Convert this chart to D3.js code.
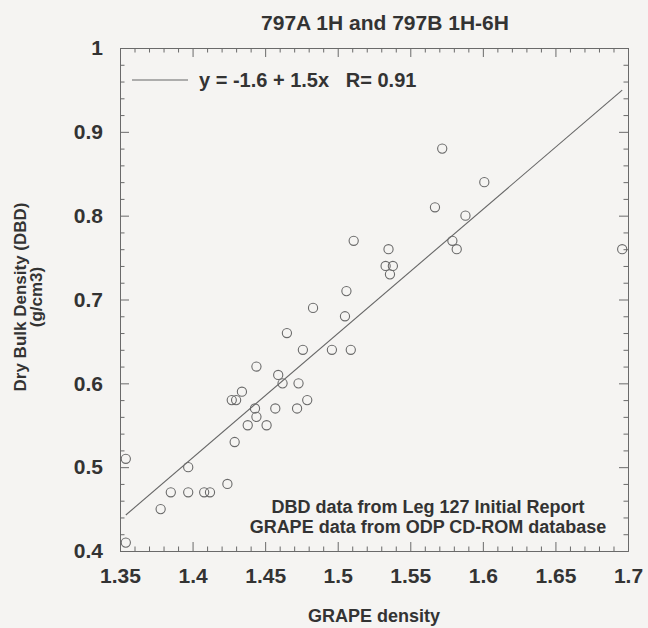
<!DOCTYPE html>
<html>
<head>
<meta charset="utf-8">
<script src="https://cdn.jsdelivr.net/npm/d3@7"></script>
<style>
  html, body { margin: 0; padding: 0; background: #f5f4f2; }
  svg { display: block; font-family: "Liberation Sans", Arial, Helvetica, sans-serif; }
  .axis path, .axis line { stroke: #6a6a6a; stroke-width: 1; }
  .axis text { fill: #333; font-size: 21px; font-weight: bold; font-family: "Liberation Sans", Arial, sans-serif; }
</style>
</head>
<body>
<svg id="chart" width="648" height="628"></svg>
<script>
// Site 797 samples: GRAPE density vs. dry bulk density
const grapeDensity = [
  1.354, 1.354, 1.378, 1.385, 1.397, 1.397, 1.408, 1.412, 1.424, 1.429,
  1.427, 1.430, 1.434, 1.438, 1.443, 1.444, 1.444, 1.451, 1.457, 1.459,
  1.462, 1.465, 1.472, 1.473, 1.476, 1.479, 1.483, 1.496, 1.505, 1.506,
  1.509, 1.511, 1.535, 1.533, 1.538, 1.536, 1.567, 1.572, 1.579, 1.582,
  1.588, 1.601, 1.696
];
const dryBulkDensity = [
  0.51, 0.41, 0.45, 0.47, 0.50, 0.47, 0.47, 0.47, 0.48, 0.53,
  0.58, 0.58, 0.59, 0.55, 0.57, 0.56, 0.62, 0.55, 0.57, 0.61,
  0.60, 0.66, 0.57, 0.60, 0.64, 0.58, 0.69, 0.64, 0.68, 0.71,
  0.64, 0.77, 0.76, 0.74, 0.74, 0.73, 0.81, 0.88, 0.77, 0.76,
  0.80, 0.84, 0.76
];
const xMajorTicks = [1.35, 1.4, 1.45, 1.5, 1.55, 1.6, 1.65, 1.7];
const yMajorTicks = [0.4, 0.5, 0.6, 0.7, 0.8, 0.9, 1];

const titleText = "797A 1H and 797B 1H-6H";
const xTitle = "GRAPE density";
const yTitleLines = ["Dry Bulk Density (DBD)", "(g/cm3)"];
const noteLines = ["DBD data from Leg 127 Initial Report", "GRAPE data from ODP CD-ROM database"];

const svg = d3.select("#chart");
const frame = { left: 120, right: 628, top: 48, bottom: 551 };

const x = d3.scaleLinear().domain([1.35, 1.7]).range([frame.left, frame.right]);
const y = d3.scaleLinear().domain([0.4, 1]).range([frame.bottom, frame.top]);

const xMinor = d3.range(135, 171, 1).map(v => v / 100).filter(v => !xMajorTicks.some(t => Math.abs(t - v) < 1e-9));
const yMinor = d3.range(40, 101, 2).map(v => v / 100).filter(v => !yMajorTicks.some(t => Math.abs(t - v) < 1e-9));
const fmt = d => String(+d.toFixed(2));

const major = 9, minor = 4.5;

// bottom axis: inward ticks, labels below
svg.append("g").attr("class", "axis").attr("transform", `translate(0,${frame.bottom})`)
  .call(d3.axisBottom(x).tickValues(xMajorTicks).tickFormat(fmt).tickSize(-major).tickPadding(17).tickSizeOuter(0));
svg.append("g").attr("class", "axis").attr("transform", `translate(0,${frame.bottom})`)
  .call(d3.axisBottom(x).tickValues(xMinor).tickFormat("").tickSize(-minor).tickSizeOuter(0));
// top axis
svg.append("g").attr("class", "axis").attr("transform", `translate(0,${frame.top})`)
  .call(d3.axisTop(x).tickValues(xMajorTicks).tickFormat("").tickSize(-major).tickSizeOuter(0));
svg.append("g").attr("class", "axis").attr("transform", `translate(0,${frame.top})`)
  .call(d3.axisTop(x).tickValues(xMinor).tickFormat("").tickSize(-minor).tickSizeOuter(0));
// left axis
svg.append("g").attr("class", "axis").attr("transform", `translate(${frame.left},0)`)
  .call(d3.axisLeft(y).tickValues(yMajorTicks).tickFormat(fmt).tickSize(-major).tickPadding(17).tickSizeOuter(0));
svg.append("g").attr("class", "axis").attr("transform", `translate(${frame.left},0)`)
  .call(d3.axisLeft(y).tickValues(yMinor).tickFormat("").tickSize(-minor).tickSizeOuter(0));
// right axis
svg.append("g").attr("class", "axis").attr("transform", `translate(${frame.right},0)`)
  .call(d3.axisRight(y).tickValues(yMajorTicks).tickFormat("").tickSize(-major).tickSizeOuter(0));
svg.append("g").attr("class", "axis").attr("transform", `translate(${frame.right},0)`)
  .call(d3.axisRight(y).tickValues(yMinor).tickFormat("").tickSize(-minor).tickSizeOuter(0));

// least-squares fit
const n = grapeDensity.length;
const mx = d3.mean(grapeDensity), my = d3.mean(dryBulkDensity);
let sxy = 0, sxx = 0, syy = 0;
for (let i = 0; i < n; i++) {
  const dx = grapeDensity[i] - mx, dy = dryBulkDensity[i] - my;
  sxy += dx * dy; sxx += dx * dx; syy += dy * dy;
}
const slope = sxy / sxx;
const intercept = my - slope * mx;
const r = sxy / Math.sqrt(sxx * syy);
const [x0, x1] = d3.extent(grapeDensity);

svg.append("line")
  .attr("x1", x(x0)).attr("y1", y(intercept + slope * x0))
  .attr("x2", x(x1)).attr("y2", y(intercept + slope * x1))
  .attr("stroke", "#666").attr("stroke-width", 1.1);

// data points
svg.append("g").selectAll("circle")
  .data(grapeDensity.map((g, i) => [g, dryBulkDensity[i]]))
  .join("circle")
  .attr("cx", d => x(d[0])).attr("cy", d => y(d[1]))
  .attr("r", 4.6)
  .attr("fill", "none").attr("stroke", "#6a6a6a").attr("stroke-width", 1.1);

// legend
svg.append("line").attr("x1", 132).attr("x2", 188).attr("y1", 80).attr("y2", 80)
  .attr("stroke", "#666").attr("stroke-width", 1.1);
svg.append("text").attr("x", 199).attr("y", 87)
  .attr("font-size", 20).attr("font-weight", "bold").attr("fill", "#333")
  .style("white-space", "pre")
  .text(`y = ${intercept.toFixed(1)} + ${slope.toFixed(1)}x   R= ${r.toFixed(2)}`);

// title
svg.append("text").attr("x", 385).attr("y", 30).attr("text-anchor", "middle")
  .attr("font-size", 21).attr("font-weight", "bold").attr("fill", "#333").text(titleText);

// data source note
svg.append("g").selectAll("text").data(noteLines).join("text")
  .attr("x", 428).attr("y", (d, i) => 513 + i * 19.5).attr("text-anchor", "middle")
  .attr("font-size", 18).attr("font-weight", "bold").attr("fill", "#333").text(d => d);

// axis titles
svg.append("text").attr("x", 374).attr("y", 622).attr("text-anchor", "middle")
  .attr("font-size", 18).attr("font-weight", "bold").attr("fill", "#333").text(xTitle);
svg.append("g").attr("transform", "translate(0,297) rotate(-90)")
  .selectAll("text").data(yTitleLines).join("text")
  .attr("x", 0).attr("y", (d, i) => 26 + i * 16).attr("text-anchor", "middle")
  .attr("font-size", 17).attr("font-weight", "bold").attr("fill", "#333").text(d => d);
</script>
</body>
</html>
